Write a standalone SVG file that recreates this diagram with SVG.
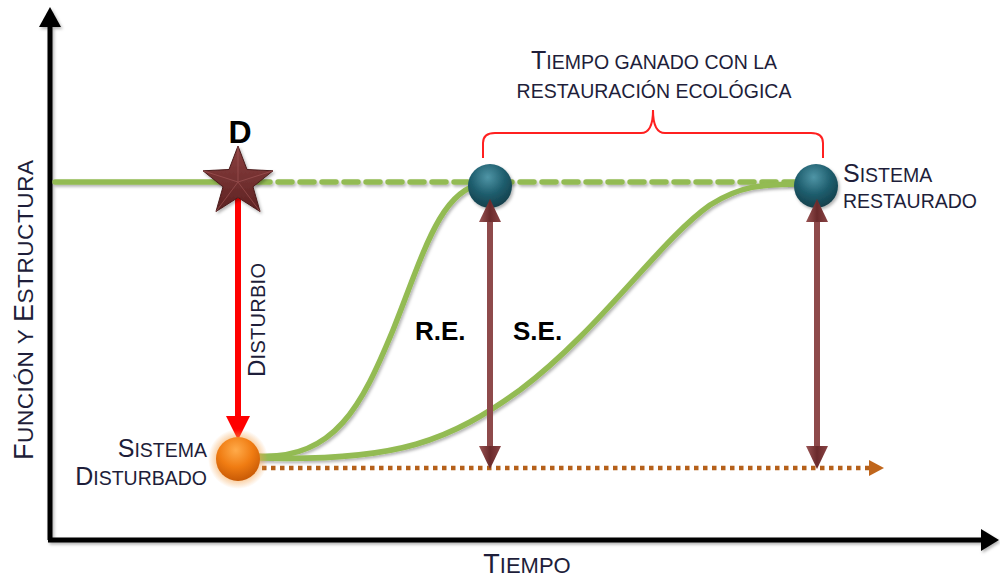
<svg xmlns="http://www.w3.org/2000/svg" width="1000" height="579" viewBox="0 0 1000 579">
  <defs>
    <style>
      .lbl { font-family: "Liberation Sans", Arial, sans-serif; fill: #1e1e3a; }
      .big { font-size: 25px; }
      .sm { font-size: 19.5px; }
      .bold { font-family: "Liberation Sans", Arial, sans-serif; font-weight: bold; fill: #000; }
      .axis { stroke: #000; stroke-width: 5; fill: none; }
      .green { stroke: #93bb52; stroke-width: 5.5; fill: none; stroke-linecap: round; }
      .brown { stroke: #8e4a4b; stroke-width: 6; fill: none; }
      .bhead { fill: url(#headGrad); }
    </style>
    <radialGradient id="tealGrad" cx="0.45" cy="0.3" r="0.7">
      <stop offset="0" stop-color="#4f95a6"/>
      <stop offset="0.55" stop-color="#1f5e6e"/>
      <stop offset="1" stop-color="#133f4b"/>
    </radialGradient>
    <radialGradient id="orangeGrad" cx="0.45" cy="0.3" r="0.7">
      <stop offset="0" stop-color="#ffab4a"/>
      <stop offset="0.55" stop-color="#f07c12"/>
      <stop offset="1" stop-color="#c85a06"/>
    </radialGradient>
    <radialGradient id="glow" cx="0.5" cy="0.5" r="0.5">
      <stop offset="0.6" stop-color="#f5a24a" stop-opacity="0.7"/>
      <stop offset="1" stop-color="#f5a24a" stop-opacity="0"/>
    </radialGradient>
    <linearGradient id="starGrad" x1="0" y1="0" x2="0" y2="1">
      <stop offset="0" stop-color="#8c4040"/>
      <stop offset="1" stop-color="#5c2222"/>
    </linearGradient>
    <linearGradient id="headGrad" x1="0" y1="0" x2="1" y2="0">
      <stop offset="0" stop-color="#9a5555"/>
      <stop offset="0.5" stop-color="#6a2a2b"/>
      <stop offset="1" stop-color="#8a4445"/>
    </linearGradient>
    <filter id="shadow" filterUnits="userSpaceOnUse" x="0" y="0" width="1000" height="579">
      <feDropShadow dx="1.5" dy="2" stdDeviation="1.5" flood-color="#000" flood-opacity="0.3"/>
    </filter>
  </defs>

  <rect width="1000" height="579" fill="#fff"/>

  <g id="axes" filter="url(#shadow)">
    <line class="axis" x1="50" y1="24" x2="50" y2="540"/>
    <line class="axis" x1="48" y1="540" x2="984" y2="540"/>
    <polygon points="50,7 39,27 61,27" fill="#000"/>
    <polygon points="999,540 981,529 981,551" fill="#000"/>
  </g>

  <g id="connectors">
    <g id="reference-line" filter="url(#shadow)">
      <line class="green" x1="55" y1="182" x2="222" y2="182" stroke-linecap="butt"/>
      <line class="green" x1="256" y1="182" x2="815" y2="182" stroke-dasharray="14 8" stroke-linecap="butt"/>
    </g>
    <g id="curves" filter="url(#shadow)">
      <path id="curve-re" class="green" d="M258,456 C335,460 362,405 393,330 C423,255 440,190 482,184"/>
      <path id="curve-se" class="green" d="M258,458 C400,462 450,440 520,390 C600,330 660,240 710,205 C740,186 760,184 805,184"/>
    </g>
    <g id="time-axis-dotted">
      <line x1="262" y1="468" x2="870" y2="468" stroke="#b5601a" stroke-width="4.5" stroke-dasharray="4.5 4.5"/>
      <polygon points="869,460 884,468 869,476" fill="#c0661c"/>
    </g>
    <g id="bracket">
      <path d="M483,158 L483,143 Q483,133 495,133 L641,133 Q653,133 653,110 Q653,133 665,133 L811,133 Q823,133 823,143 L823,158" fill="none" stroke="#ff2020" stroke-width="2"/>
    </g>
    <g id="arrow-disturbio">
      <line x1="238" y1="198" x2="238" y2="420" stroke="#ff0000" stroke-width="6"/>
      <polygon points="226,416 250,416 238,440" fill="#ff0000"/>
    </g>
  </g>

  <g id="node-star">
    <polygon points="238,146 247,169.5 273,170.8 253,186.8 260,211.5 238,197.5 216,211.5 223,186.8 203,170.8 229,169.5" fill="url(#starGrad)" stroke="#4a1a1a" stroke-width="1" filter="url(#shadow)"/>
    <path d="M238,146 L238,182 M273,170.8 L238,182 M260,211.5 L238,182 M216,211.5 L238,182 M203,170.8 L238,182" stroke="#a65a5a" stroke-width="1" opacity="0.6"/>
    <text class="bold" x="240" y="143" font-size="32" text-anchor="middle">D</text>
  </g>

  <g id="node-disturbed">
    <circle cx="238" cy="459" r="30" fill="url(#glow)"/>
    <circle cx="238" cy="459" r="22" fill="url(#orangeGrad)"/>
    <text class="lbl" text-anchor="end"><tspan x="207" y="457"><tspan class="big">S</tspan><tspan class="sm">ISTEMA</tspan></tspan><tspan x="207" y="485"><tspan class="big">D</tspan><tspan class="sm">ISTURBADO</tspan></tspan></text>
  </g>

  <g id="node-re" filter="url(#shadow)">
    <circle cx="490" cy="186" r="22" fill="url(#tealGrad)"/>
  </g>

  <g id="node-restored">
    <circle cx="816" cy="186" r="22" fill="url(#tealGrad)" filter="url(#shadow)"/>
    <text class="lbl"><tspan x="843" y="182"><tspan class="big">S</tspan><tspan class="sm">ISTEMA</tspan></tspan><tspan x="843" y="208" class="sm">RESTAURADO</tspan></text>
  </g>

  <g id="arrows-recovery">
    <g id="arrow-re">
      <line class="brown" x1="490" y1="218" x2="490" y2="450"/>
      <polygon class="bhead" points="490,199 479,222 501,222"/>
      <polygon class="bhead" points="479,446 501,446 490,469"/>
    </g>
    <g id="arrow-se">
      <line class="brown" x1="817" y1="218" x2="817" y2="450"/>
      <polygon class="bhead" points="817,199 806,222 828,222"/>
      <polygon class="bhead" points="806,446 828,446 817,469"/>
    </g>
  </g>

  <g id="labels">
    <text class="bold" x="415" y="340" font-size="26">R.E.</text>
    <text class="bold" x="513" y="340" font-size="26">S.E.</text>
    <text class="lbl" transform="translate(265,377) rotate(-90)" textLength="114" lengthAdjust="spacing"><tspan font-size="24">D</tspan><tspan font-size="20">ISTURBIO</tspan></text>
    <text class="lbl" text-anchor="middle"><tspan x="654" y="69"><tspan class="big">T</tspan><tspan class="sm">IEMPO GANADO CON LA</tspan></tspan><tspan x="654" y="98" class="sm">RESTAURACIÓN ECOLÓGICA</tspan></text>
    <text class="lbl" transform="translate(33,460) rotate(-90)" textLength="300" lengthAdjust="spacing"><tspan font-size="27">F</tspan><tspan font-size="22.5">UNCIÓN Y </tspan><tspan font-size="27">E</tspan><tspan font-size="22.5">STRUCTURA</tspan></text>
    <text class="lbl" x="527" y="573" text-anchor="middle"><tspan font-size="27">T</tspan><tspan font-size="22">IEMPO</tspan></text>
  </g>
</svg>
